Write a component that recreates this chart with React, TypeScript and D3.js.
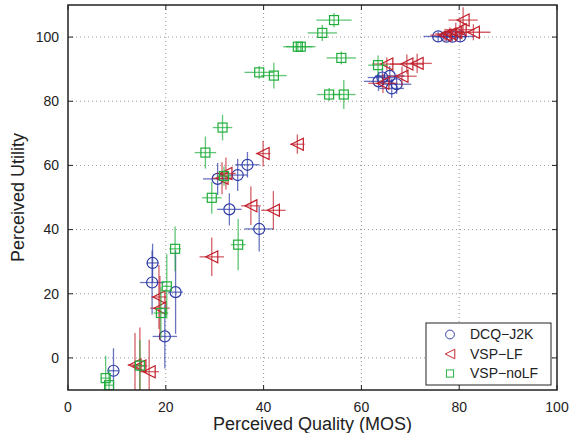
import React from "react";
import * as d3 from "d3";

// [x (MOS), y (utility), x error, y error]
const dcqJ2k: number[][] = [
  [75.7, 100.2, 3, 1.5], [77.4, 100.1, 3, 1.5], [78.6, 100.1, 3, 1.5], [80.2, 100.2, 3, 1.5],
  [63.5, 86.2, 3, 3], [64.3, 87.4, 3, 3], [65.8, 87.9, 3, 3], [67.2, 85.3, 3, 3], [66.2, 84.0, 2.5, 3],
  [30.6, 55.8, 3, 5], [34.7, 57.0, 2, 5], [36.7, 60.2, 2.5, 4], [33.0, 46.3, 2.5, 5],
  [39.1, 40.2, 3, 7],
  [17.3, 29.6, 1.2, 6], [17.2, 23.5, 2.5, 10], [22.0, 20.5, 1.5, 13], [19.8, 6.7, 2.5, 10], [9.3, -4.0, 1, 7],
];

const vspLf: number[][] = [
  [80.8, 105.3, 3, 4], [82.9, 101.5, 3.5, 2.5], [80.2, 102.3, 3, 3], [79.3, 101.5, 3, 3], [78.1, 101.0, 3, 2], [77.1, 100.6, 3, 2],
  [65.2, 91.6, 3, 2], [69.3, 91.6, 3.5, 3], [71.4, 91.8, 3, 3], [68.3, 87.8, 3, 3], [64.4, 85.6, 3, 3],
  [46.9, 66.6, 1.5, 3], [39.9, 63.7, 1.5, 4], [31.5, 56.0, 2, 5], [32.3, 57.5, 2, 5],
  [37.4, 47.4, 2, 6], [42.0, 46.0, 2.5, 6], [29.4, 31.5, 2.5, 6],
  [18.6, 19.0, 1.5, 10], [18.8, 15.5, 2, 10], [13.7, -2.2, 1.5, 10], [14.7, -2.5, 1.5, 12], [16.6, -4.3, 2, 10],
];

const vspNoLf: number[][] = [
  [54.4, 105.3, 3.6, 2.2], [52.0, 101.3, 3, 2.5], [47.0, 97.0, 3, 1.5], [47.6, 97.0, 3, 1.5],
  [55.9, 93.5, 3, 2], [39.1, 89.0, 3, 2], [42.1, 88.0, 2.6, 4], [53.4, 82.1, 2.5, 2], [56.4, 82.1, 2.4, 4.5],
  [63.4, 91.25, 2, 3], [28.1, 64.0, 2.2, 5], [31.6, 71.8, 2, 4], [31.9, 56.7, 1.5, 3], [29.4, 49.9, 2, 5],
  [34.8, 35.3, 1.5, 8], [21.9, 34.0, 1.2, 7], [20.2, 22.3, 1, 10], [19.0, 14.0, 1.5, 8],
  [14.7, -2.4, 1, 8], [7.7, -6.3, 1, 7], [8.4, -8.5, 1, 5],
];

const seriesNames = ["DCQ\u2212J2K", "VSP\u2212LF", "VSP\u2212noLF"];
const seriesColors = ["#2c3aa6", "#c21f2b", "#1fae3c"];
const xTicks = [0, 20, 40, 60, 80, 100];
const yTicks = [0, 20, 40, 60, 80, 100];

const App = () => {
  const ref = React.useRef<SVGSVGElement>(null);

  React.useEffect(() => {
    const width = 577;
    const height = 433;
    const margin = { left: 68, right: 20, top: 5, bottom: 43 };
    const font = "Liberation Sans, Arial, sans-serif";

    const svg = d3.select(ref.current);
    svg.selectAll("*").remove();

    const x = d3.scaleLinear().domain([0, 100]).range([margin.left, width - margin.right]);
    const y = d3.scaleLinear().domain([-10, 110]).range([height - margin.bottom, margin.top]);

    svg.append("rect").attr("width", width).attr("height", height).attr("fill", "white");

    svg.append("clipPath").attr("id", "plotclip")
      .append("rect")
      .attr("x", x(0)).attr("y", y(110))
      .attr("width", x(100) - x(0)).attr("height", y(-10) - y(110));

    // dotted grid
    const grid = svg.append("g").attr("stroke", "#999").attr("stroke-dasharray", "1,3").attr("stroke-width", 1);
    xTicks.slice(1, -1).forEach(t => {
      grid.append("line").attr("x1", x(t)).attr("x2", x(t)).attr("y1", y(-10)).attr("y2", y(110));
    });
    yTicks.forEach(t => {
      grid.append("line").attr("x1", x(0)).attr("x2", x(100)).attr("y1", y(t)).attr("y2", y(t));
    });

    const plot = svg.append("g").attr("clip-path", "url(#plotclip)");
    const allSeries = [dcqJ2k, vspLf, vspNoLf];

    const drawMarker = (g: any, kind: number, color: string) => {
      if (kind === 0) {
        g.append("circle").attr("r", 5.5).attr("fill", "none").attr("stroke", color).attr("stroke-width", 1.2);
      } else if (kind === 1) {
        g.append("path").attr("d", "M-6,0L6,-6L6,6Z").attr("fill", "none").attr("stroke", color).attr("stroke-width", 1.2);
      } else {
        g.append("rect").attr("x", -4.5).attr("y", -4.5).attr("width", 9).attr("height", 9)
          .attr("fill", "none").attr("stroke", color).attr("stroke-width", 1.2);
      }
    };

    allSeries.forEach((pts, si) => {
      const color = seriesColors[si];
      const g = plot.append("g");
      pts.forEach(([px, py, xe, ye]) => {
        g.append("line")
          .attr("x1", x(px - xe)).attr("x2", x(px + xe)).attr("y1", y(py)).attr("y2", y(py))
          .attr("stroke", color).attr("stroke-width", 1.3).attr("opacity", 0.7);
        g.append("line")
          .attr("x1", x(px)).attr("x2", x(px)).attr("y1", y(py - ye)).attr("y2", y(py + ye))
          .attr("stroke", color).attr("stroke-width", 1.3).attr("opacity", 0.7);
        const m = g.append("g").attr("transform", `translate(${x(px)},${y(py)})`);
        drawMarker(m, si, color);
      });
    });

    // axes box with inward ticks
    const axisColor = "#222";
    const tickLen = 5;
    const axes = svg.append("g").attr("stroke", axisColor).attr("stroke-width", 1);
    xTicks.forEach(t => {
      axes.append("line").attr("x1", x(t)).attr("x2", x(t)).attr("y1", y(-10)).attr("y2", y(-10) - tickLen);
      axes.append("line").attr("x1", x(t)).attr("x2", x(t)).attr("y1", y(110)).attr("y2", y(110) + tickLen);
    });
    yTicks.forEach(t => {
      axes.append("line").attr("x1", x(0)).attr("x2", x(0) + tickLen).attr("y1", y(t)).attr("y2", y(t));
      axes.append("line").attr("x1", x(100)).attr("x2", x(100) - tickLen).attr("y1", y(t)).attr("y2", y(t));
    });
    svg.append("rect")
      .attr("x", x(0)).attr("y", y(110))
      .attr("width", x(100) - x(0)).attr("height", y(-10) - y(110))
      .attr("fill", "none").attr("stroke", axisColor).attr("stroke-width", 1.5);

    // tick labels
    svg.append("g").selectAll("text").data(xTicks).join("text")
      .attr("x", d => x(d)).attr("y", y(-10) + 22)
      .attr("text-anchor", "middle").attr("font-family", font).attr("font-size", 14).attr("fill", "#222")
      .text(d => d);
    svg.append("g").selectAll("text").data(yTicks).join("text")
      .attr("x", x(0) - 9).attr("y", d => y(d)).attr("dy", "0.35em")
      .attr("text-anchor", "end").attr("font-family", font).attr("font-size", 14).attr("fill", "#222")
      .text(d => d);

    // axis titles
    svg.append("text")
      .attr("x", (x(0) + x(100)) / 2).attr("y", height - 3)
      .attr("text-anchor", "middle").attr("font-family", font).attr("font-size", 18).attr("fill", "#222")
      .text("Perceived Quality (MOS)");
    svg.append("text")
      .attr("transform", `translate(24,${(y(-10) + y(110)) / 2}) rotate(-90)`)
      .attr("text-anchor", "middle").attr("font-family", font).attr("font-size", 18).attr("fill", "#222")
      .text("Perceived Utility");

    // legend
    const legend = svg.append("g").attr("transform", "translate(426,323)");
    legend.append("rect").attr("width", 125).attr("height", 62)
      .attr("fill", "white").attr("stroke", axisColor).attr("stroke-width", 1);
    seriesNames.forEach((name, i) => {
      const row = legend.append("g").attr("transform", `translate(24,${11.5 + i * 19.5})`);
      const m = row.append("g").attr("transform", "scale(0.8)");
      drawMarker(m, i, seriesColors[i]);
      row.append("text").attr("x", 20).attr("dy", "0.35em")
        .attr("font-family", font).attr("font-size", 14).attr("fill", "#222")
        .text(name);
    });
  }, []);

  return (
    <svg
      ref={ref}
      width={577}
      height={433}
      style={{ position: "absolute", left: 0, top: 0 }}
    />
  );
};

export default App;
